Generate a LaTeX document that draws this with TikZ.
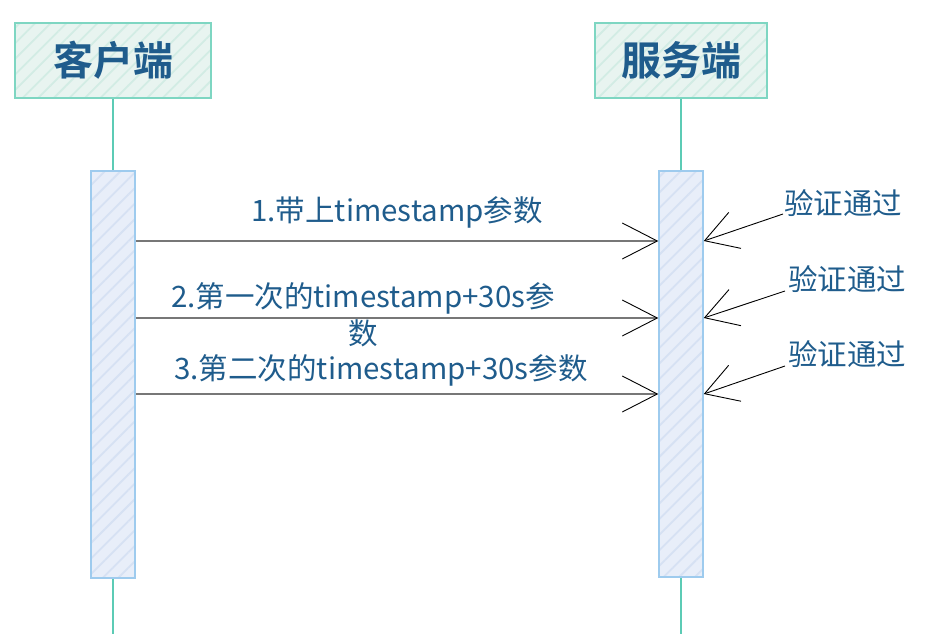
\documentclass[tikz,border=0pt]{standalone}
\usepackage{fontspec}
\setmainfont{Noto Sans CJK SC}[BoldFont=* Bold]
\usetikzlibrary{arrows.meta,positioning,patterns.meta}
\definecolor{textblue}{HTML}{1F5C8C}
\definecolor{actorline}{HTML}{7ED6C2}
\definecolor{actorfill}{HTML}{E8F4F0}
\definecolor{actorstripe}{HTML}{D2ECE4}
\definecolor{lifeline}{HTML}{5CCBB5}
\definecolor{actline}{HTML}{9ECBEE}
\definecolor{actfill}{HTML}{E8EEF9}
\definecolor{actstripe}{HTML}{D6E1F3}
\definecolor{msgline}{HTML}{777777}
\tikzstyle{actor}=[
	rectangle,
	draw=actorline,
	line width=1.5pt,
	minimum height=75pt,
	preaction={fill=actorfill},
	pattern={Lines[angle=45,distance=11pt,line width=1.8pt]},
	pattern color=actorstripe,
	text=textblue,
	font=\fontsize{40}{44}\selectfont\bfseries
]
\tikzstyle{activation}=[
	rectangle,
	draw=actline,
	line width=1.5pt,
	minimum width=44pt,
	preaction={fill=actfill},
	pattern={Lines[angle=45,distance=11pt,line width=1.8pt]},
	pattern color=actstripe
]
\tikzstyle{lifeline}=[
	draw=lifeline,
	line width=1.8pt
]
\tikzstyle{message}=[
	draw=msgline,
	line width=1.3pt,
	-{Straight Barb[length=35pt,width=36pt,line width=0.9pt,color=black]}
]
\tikzstyle{verify}=[
	draw=black,
	line width=0.9pt,
	-{Straight Barb[length=32pt,width=38pt,line width=0.9pt]}
]
\tikzstyle{label}=[
	text=textblue,
	font=\fontsize{29.5}{37}\selectfont,
	inner sep=0pt
]

\begin{document}
\begin{tikzpicture}[x=1pt,y=-1pt]
\useasboundingbox (0,0) rectangle (932,634);
% actors
\node [actor, minimum width=196pt] (client) at (113,60.5) {客户端};
\node [actor, minimum width=172pt] (server) at (681,60.5) {服务端};
\coordinate (clientEnd) at (113,634);
\coordinate (serverEnd) at (681,634);
\draw [lifeline] (client.south) -- (clientEnd);
\draw [lifeline] (server.south) -- (serverEnd);
% activations
\node [activation, minimum height=407pt] (clientAct) at (113,374.5) {};
\node [activation, minimum height=406pt] (serverAct) at (681,374) {};
% messages
\coordinate (m1) at (0,241);
\coordinate (m2) at (0,318);
\coordinate (m3) at (0,394);
\draw [message] (clientAct.east |- m1) -- (serverAct.west |- m1);
\draw [message] (clientAct.east |- m2) -- (serverAct.west |- m2);
\draw [message] (clientAct.east |- m3) -- (serverAct.west |- m3);
\node [label] (msg1) at (397,212) {1.带上timestamp参数};
\node [label, align=center] (msg2) at (363,314.5) {2.第一次的timestamp+30s参\\数};
\node [label] (msg3) at (381,370) {3.第二次的timestamp+30s参数};
% checks
\node [label] (check1) at (843,203) {验证通过};
\node [label] (check2) at (847,279) {验证通过};
\node [label] (check3) at (847,354) {验证通过};
\coordinate (c1) at (783,214);
\coordinate (c2) at (785,291);
\coordinate (c3) at (785,366);
\draw [verify] (c1) -- (serverAct.east |- m1);
\draw [verify] (c2) -- (serverAct.east |- m2);
\draw [verify] (c3) -- (serverAct.east |- m3);
\end{tikzpicture}
\end{document}
